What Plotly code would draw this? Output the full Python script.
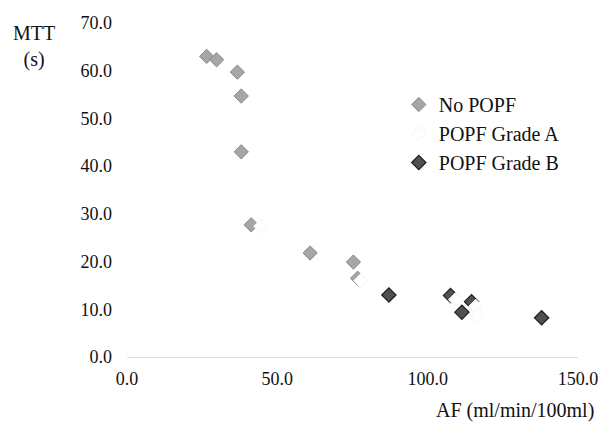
import plotly.graph_objects as go

# Data
no_popf_af = [26.5, 29.8, 36.7, 38.0, 38.0, 41.3, 60.9, 75.3, 76.7]
no_popf_mtt = [63.0, 62.3, 59.7, 54.7, 43.0, 27.7, 21.8, 19.9, 16.5]

grade_a_af = [44.5, 77.8, 109.3, 116.0, 116.5]
grade_a_mtt = [27.4, 16.0, 12.0, 10.6, 8.8]

grade_b_af = [87.1, 107.6, 111.4, 114.6, 137.9]
grade_b_mtt = [13.0, 12.9, 9.4, 11.6, 8.2]

x_ticks = [0, 50, 100, 150]
y_ticks = [0, 10, 20, 30, 40, 50, 60, 70]

FONT = "Liberation Serif"

fig = go.Figure()
fig.add_trace(go.Scatter(
    x=no_popf_af, y=no_popf_mtt, mode="markers", name="No POPF",
    marker=dict(symbol="diamond", size=11, color="#a6a6a6",
                line=dict(color="#8a8a8a", width=1))))
fig.add_trace(go.Scatter(
    x=grade_b_af, y=grade_b_mtt, mode="markers", name="POPF Grade B",
    marker=dict(symbol="diamond", size=11, color="#505050",
                line=dict(color="#1e1e1e", width=1.2))))
fig.add_trace(go.Scatter(
    x=grade_a_af, y=grade_a_mtt, mode="markers", name="POPF Grade A",
    marker=dict(symbol="diamond", size=11, color="#ffffff",
                line=dict(color="#f4f4f4", width=1))))

L, R, T, B = 127, 25, 23, 67
W, H = 610, 424
pw, ph = W - L - R, H - T - B

fig.update_layout(
    width=W, height=H,
    margin=dict(l=L, r=R, t=T, b=B, pad=0),
    paper_bgcolor="white", plot_bgcolor="white",
    font=dict(family=FONT, size=18, color="#111111"),
    showlegend=True,
    legend=dict(
        x=(403 - L) / pw, y=1 - (85 - T) / ph,
        xanchor="left", yanchor="top",
        font=dict(family=FONT, size=20, color="#111111"),
        bgcolor="rgba(0,0,0,0)",
        traceorder="normal",
    ),
    xaxis=dict(
        range=[0, 150], tickvals=x_ticks,
        ticktext=[f"{v:.1f}" for v in x_ticks],
        showgrid=False, zeroline=False,
        showline=True, linecolor="#dedede", linewidth=1,
        ticks="", ticklabelstandoff=5,
        tickfont=dict(family=FONT, size=18),
    ),
    yaxis=dict(
        range=[0, 70], tickvals=y_ticks,
        ticktext=[f"{v:.1f}" for v in y_ticks],
        showgrid=False, zeroline=False, showline=False,
        ticks="", ticklabelstandoff=14,
        tickfont=dict(family=FONT, size=18),
    ),
    annotations=[
        dict(text="AF (ml/min/100ml)", xref="paper", yref="paper",
             x=1 + (603 - (L + pw)) / pw, y=-(410 - (T + ph)) / ph,
             xanchor="right", yanchor="middle", showarrow=False,
             font=dict(family=FONT, size=20, color="#111111")),
        dict(text="MTT<br>(s)", xref="paper", yref="paper",
             x=(33 - L) / pw, y=1 - (46 - T) / ph,
             xanchor="center", yanchor="middle", showarrow=False,
             align="center",
             font=dict(family=FONT, size=20, color="#111111")),
    ],
)

# Legend order: No POPF, Grade A, Grade B
fig.data[0].legendrank = 1
fig.data[2].legendrank = 2
fig.data[1].legendrank = 3

fig.write_html("out.html")
